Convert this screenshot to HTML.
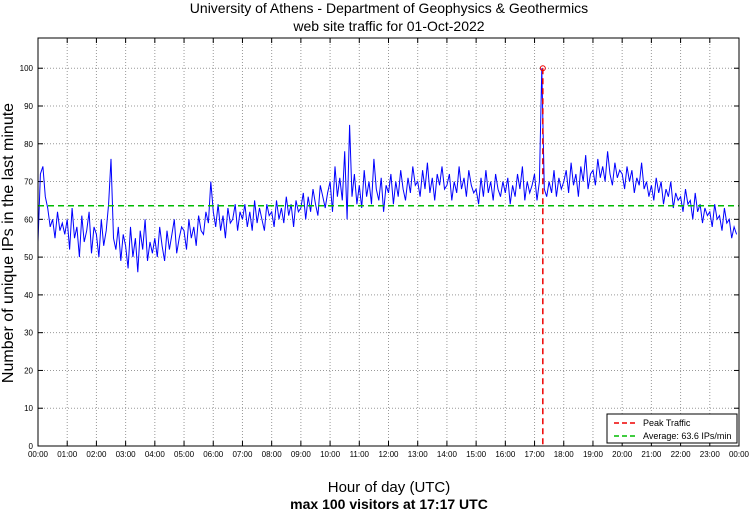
<!DOCTYPE html>
<html><head><meta charset="utf-8"><style>
body{margin:0;background:#fff;width:750px;height:511px;overflow:hidden;font-family:"Liberation Sans",sans-serif}
</style></head><body>
<svg id="chart" width="750" height="511" xmlns="http://www.w3.org/2000/svg" font-family="Liberation Sans, sans-serif">
<text x="389" y="13" text-anchor="middle" font-size="14">University of Athens - Department of Geophysics &amp; Geothermics</text>
<text x="389" y="31" text-anchor="middle" font-size="14">web site traffic for 01-Oct-2022</text>
<text transform="translate(13,243) rotate(-90)" text-anchor="middle" font-size="16">Number of unique IPs in the last minute</text>
<text x="389" y="492" text-anchor="middle" font-size="15">Hour of day (UTC)</text>
<text x="389" y="509" text-anchor="middle" font-size="14" font-weight="bold">max 100 visitors at 17:17 UTC</text>
<g id="grid"></g><g id="ticks"></g><g id="series"></g>
<rect x="38" y="38" width="701" height="408" fill="none" stroke="#000" stroke-width="1"/>
<g>
<rect x="607" y="414" width="130" height="29" fill="#fff" stroke="#000" stroke-width="1"/>
<line x1="614" y1="423" x2="638" y2="423" stroke="#e00" stroke-width="1.5" stroke-dasharray="5,3"/>
<text x="643" y="426" font-size="9">Peak Traffic</text>
<line x1="614" y1="436" x2="638" y2="436" stroke="#0b0" stroke-width="1.5" stroke-dasharray="5,3"/>
<text x="643" y="439" font-size="9">Average: 63.6 IPs/min</text>
</g>
</svg>
<script>
const values=[
54,72,74,66,63,58,60,55,62,57,59,56,
60,52,63,55,58,50,61,54,57,62,51,58,
56,50,60,53,57,64,76,55,52,58,49,56,
53,47,58,50,55,46,57,52,60,49,54,51,
55,50,58,53,49,57,52,56,60,51,55,58,
57,52,60,55,58,53,61,57,56,62,59,70,
62,58,64,57,61,55,63,59,60,64,57,62,
60,64,58,62,57,65,59,63,60,57,64,61,
62,58,65,60,63,59,66,61,64,58,65,62,
63,67,60,66,62,68,64,61,69,66,63,67,
70,62,74,66,71,65,78,60,85,66,72,64,
69,63,73,66,70,64,76,68,65,71,62,69,
67,72,64,70,66,73,68,65,71,67,74,69,
70,66,73,68,75,67,71,65,72,69,74,68,
69,72,65,70,67,74,68,71,66,73,69,67,
68,64,71,66,73,67,70,65,72,68,66,70,
67,71,64,69,66,72,68,74,65,70,67,69,
72,65,70,100,68,66,70,67,73,66,71,68,
70,73,67,75,69,72,66,74,70,77,68,72,
73,69,76,71,74,70,78,72,69,75,71,73,
72,68,74,70,73,67,71,69,75,68,70,66,
69,65,71,67,70,64,68,66,70,63,67,65,
66,62,68,64,65,60,67,62,64,59,63,61,
62,58,64,60,61,57,63,59,60,55,58,56];
const stepMinutes=5;
const yTicks=[0,10,20,30,40,50,60,70,80,90,100];
const xTickLabels=["00:00","01:00","02:00","03:00","04:00","05:00","06:00","07:00","08:00","09:00","10:00","11:00","12:00","13:00","14:00","15:00","16:00","17:00","18:00","19:00","20:00","21:00","22:00","23:00","00:00"];
const average=63.6;
const peakMinute=1037;
const peakValue=100;

const L=38,R=739,T=38,B=446,YMAX=108;
const xs=m=>L+(R-L)*m/1440;
const ys=v=>B-(B-T)*v/YMAX;
const NS="http://www.w3.org/2000/svg";
function mk(tag,attrs,parent){const e=document.createElementNS(NS,tag);for(const k in attrs)e.setAttribute(k,attrs[k]);parent.appendChild(e);return e;}
const grid=document.getElementById('grid'),ticks=document.getElementById('ticks'),series=document.getElementById('series');
yTicks.forEach(v=>{
 const y=ys(v);
 if(v>0){const g=mk('line',{x1:L,x2:R,y1:y,y2:y,stroke:'#999','stroke-width':1,'stroke-dasharray':'1,2'},grid);
 
 }
 mk('line',{x1:L,x2:L+5,y1:y,y2:y,stroke:'#000'},ticks);
 mk('line',{x1:R,x2:R-5,y1:y,y2:y,stroke:'#000'},ticks);
 const t=mk('text',{x:L-5,y:y+3,'text-anchor':'end','font-size':8},ticks);
 
 
 t.textContent=v;
});
xTickLabels.forEach((lab,i)=>{
 const x=xs(i*60);
 if(i>0&&i<24){const g=mk('line',{x1:x,x2:x,y1:T,y2:B,stroke:'#999','stroke-width':1,'stroke-dasharray':'1,2'},grid);
 
 }
 mk('line',{x1:x,x2:x,y1:B,y2:B-5,stroke:'#000'},ticks);
 mk('line',{x1:x,x2:x,y1:T,y2:T+5,stroke:'#000'},ticks);
 const t=mk('text',{x:x,y:B+11,'text-anchor':'middle','font-size':8},ticks);
 
 
 t.textContent=lab;
});
const pts=values.map((v,i)=>xs(i*stepMinutes).toFixed(1)+','+ys(v).toFixed(1)).join(' ');
const line=mk('polyline',{points:pts,fill:'none',stroke:'#00f','stroke-width':1},series);


const avg=mk('line',{x1:L,x2:R,y1:ys(average),y2:ys(average),stroke:'#0b0','stroke-width':1.5,'stroke-dasharray':'6,4'},series);


const pk=mk('line',{x1:xs(peakMinute),x2:xs(peakMinute),y1:ys(peakValue),y2:B,stroke:'#e00','stroke-width':1.5,'stroke-dasharray':'6,4'},series);


const pm=mk('circle',{cx:xs(peakMinute),cy:ys(peakValue),r:2.5,fill:'none',stroke:'#e00','stroke-width':1},series);


</script>
</body></html>
